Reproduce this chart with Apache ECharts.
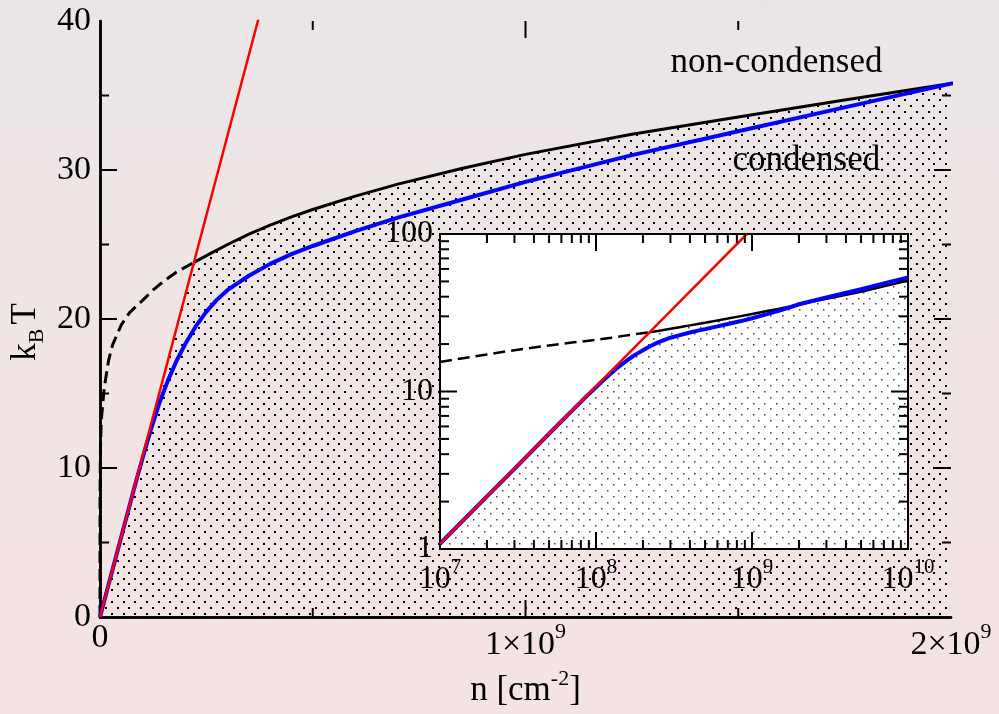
<!DOCTYPE html>
<html>
<head>
<meta charset="utf-8">
<script src="https://cdn.jsdelivr.net/npm/echarts@6/dist/echarts.min.js"></script>
<style>
  html, body { margin: 0; padding: 0; }
  body { background: linear-gradient(to bottom, #ebe6e6, #f6e3e3); }
  #chart { width: 999px; height: 714px; }
</style>
</head>
<body>
<div id="chart"></div>
<script>
// Critical temperature k_B T versus areal density n [cm^-2]
// Black curve: dashed below the crossing with the red line, solid above it
const blackDashedN = [0, 1e4, 1e5, 1e6, 3e6, 1e7, 2e7, 3e7, 5e7, 7e7, 1e8, 1.25e8, 1.5e8, 1.8e8, 2.21e8];
const blackDashedT = [0, 6.0, 8.2, 11.2, 13.2, 15.4, 17.2, 18.3, 19.6, 20.45, 21.25, 21.95, 22.55, 23.15, 23.8];
const blackSolidN = [2.21e8, 2.6e8, 3e8, 3.5e8, 4e8, 4.5e8, 5e8, 6e8, 7e8, 8.5e8, 1e9, 1.25e9, 1.5e9, 1.75e9, 2e9, 3e9, 5e9, 7e9, 1e10];
const blackSolidT = [23.8, 24.4, 25.0, 25.7, 26.3, 26.85, 27.35, 28.25, 29.05, 30.1, 31.05, 32.4, 33.55, 34.7, 35.8, 38.8, 43.0, 46.6, 50.6];
// Blue curve
const blueN = [0, 1e7, 2e7, 3e7, 5e7, 7e7, 8e7, 9e7, 1e8, 1.1e8, 1.2e8, 1.4e8, 1.6e8, 1.8e8, 2e8, 2.25e8, 2.5e8, 2.75e8, 3e8, 3.5e8, 4e8, 4.5e8, 5e8, 6e8, 7e8, 8.5e8, 1e9, 1.25e9, 1.5e9, 1.75e9, 2e9, 3e9, 5e9, 7e9, 1e10];
const blueT = [0, 1.08, 2.16, 3.23, 5.39, 7.53, 8.6, 9.65, 10.65, 11.65, 12.6, 14.4, 15.9, 17.2, 18.3, 19.5, 20.5, 21.3, 21.95, 22.9, 23.7, 24.35, 24.9, 25.9, 26.8, 28.0, 29.2, 31.0, 32.6, 34.2, 35.8, 39.5, 44.6, 48.5, 53.0];
// Red straight line
const redN = [0, 1e7, 3.71e8, 9.28e8];
const redT = [0, 1.078, 40, 100];

// Axis ranges and ticks
const mainXRange = [0, 2e9];
const mainXStep = 1e9;
const mainYRange = [0, 40];
const mainYStep = 10;
const insetXRange = [1e7, 1e10];
const insetYRange = [1, 100];
const annotations = [
  { text: 'non-condensed', n: 1.59e9, T: 37.2 },
  { text: 'condensed', n: 1.66e9, T: 30.6 }
];

const serif = '"Liberation Serif", "Times New Roman", serif';
const pairs = (xs, ys) => xs.map((x, i) => [x, ys[i]]);
const positive = p => p[0] >= insetXRange[0];

// Boundary of the condensed region: red line up to the crossing, then the solid black curve
const fillEdge = pairs(redN, redT).filter(p => p[0] < blackSolidN[0]).concat(pairs(blackSolidN, blackSolidT));

// Staggered dot texture for the condensed region
function dotTexture(color, size) {
  const c = document.createElement('canvas');
  c.width = 35; c.height = 35;
  const ctx = c.getContext('2d');
  ctx.fillStyle = color;
  for (let i = 0; i < 6; i++) {
    const y = Math.round(i * 35 / 6);
    const off = (i % 2) * 35 / 6;
    for (let j = 0; j < 3; j++) {
      const x = Math.round(j * 35 / 3 + off) % 35;
      ctx.fillRect(x, y, size, size);
    }
  }
  return c;
}
const mainDots = dotTexture('#000', 2);
const insetDots = dotTexture('rgba(0,0,0,0.75)', 1.5);

// Tick marks, drawn inward on all four sides of each panel: [x, y, length, isYTick]
const mainTicks = [];
for (let v = mainXRange[0] + mainXStep / 2; v < mainXRange[1]; v += mainXStep / 2) {
  const major = Math.abs(v / mainXStep - Math.round(v / mainXStep)) < 1e-9;
  mainTicks.push([v, 20, major ? 17 : 9, 0]);
}
for (let v = mainYRange[0] + mainYStep / 2; v < mainYRange[1]; v += mainYStep / 2) {
  mainTicks.push([1e9, v, v % mainYStep === 0 ? 17 : 9, 1]);
}
const insetTicks = [];
for (let e = 7; e < 10; e++) {
  for (let m = 1; m <= 9; m++) {
    const v = m * Math.pow(10, e);
    if (v <= insetXRange[0]) continue;
    insetTicks.push([v, 10, m === 1 ? 17 : 9, 0]);
  }
}
for (let e = 0; e < 2; e++) {
  for (let m = 1; m <= 9; m++) {
    const v = m * Math.pow(10, e);
    if (v <= insetYRange[0]) continue;
    insetTicks.push([1e8, v, m === 1 ? 17 : 9, 1]);
  }
}

function tickRenderer(params, api) {
  const cs = params.coordSys;
  const len = api.value(2);
  const st = () => ({ stroke: '#000', lineWidth: 2 });
  if (api.value(3) === 0) {
    const px = api.coord([api.value(0), api.value(1)])[0];
    const b = cs.y + cs.height;
    return { type: 'group', children: [
      { type: 'line', shape: { x1: px, y1: b, x2: px, y2: b - len }, style: st() },
      { type: 'line', shape: { x1: px, y1: cs.y, x2: px, y2: cs.y + len }, style: st() }
    ] };
  }
  const py = api.coord([api.value(0), api.value(1)])[1];
  const r = cs.x + cs.width;
  return { type: 'group', children: [
    { type: 'line', shape: { x1: cs.x, y1: py, x2: cs.x + len, y2: py }, style: st() },
    { type: 'line', shape: { x1: r, y1: py, x2: r - len, y2: py }, style: st() }
  ] };
}

const axisLine = w => ({ show: true, lineStyle: { color: '#000', width: w } });
const noTicks = { show: false };

const chart = echarts.init(document.getElementById('chart'), null, { renderer: 'canvas' });

const lineBase = { type: 'line', symbol: 'none', showSymbol: false, silent: true, smooth: false };

chart.setOption({
  animation: false,
  backgroundColor: 'transparent',
  grid: [
    { left: 100, top: 21, width: 851, height: 596, outerBoundsMode: 'none', containLabel: false },
    { left: 440, top: 234, width: 468, height: 315, show: true, backgroundColor: '#fff',
      borderColor: '#000', borderWidth: 2, z: 10, outerBoundsMode: 'none', containLabel: false }
  ],
  xAxis: [
    {
      gridIndex: 0, type: 'value', position: 'bottom',
      min: mainXRange[0], max: mainXRange[1], interval: mainXStep,
      axisLine: axisLine(2.5), axisTick: noTicks, minorTick: noTicks, splitLine: { show: false },
      axisLabel: {
        margin: 4, color: '#000', fontFamily: serif, fontSize: 34, showMinLabel: true, showMaxLabel: true,
        hideOverlap: false,
        formatter: v => v === 0 ? '{z|0}' : '{b|' + Math.round(v / 1e9) + '×10}{s|9}',
        rich: {
          z: { fontFamily: serif, fontSize: 34, lineHeight: 34, color: '#000' },
          b: { fontFamily: serif, fontSize: 34, lineHeight: 34, padding: [14, 0, 0, 0], color: '#000' },
          s: { fontFamily: serif, fontSize: 22, lineHeight: 22, verticalAlign: 'top', color: '#000' }
        }
      },
      name: '{n|n [cm}{s|-2}{n|]}', nameLocation: 'middle', nameGap: 51, nameMoveOverlap: false,
      nameTextStyle: {
        color: '#000', fontFamily: serif, fontSize: 35,
        rich: {
          n: { fontFamily: serif, fontSize: 35, lineHeight: 35, padding: [10, 0, 0, 0], color: '#000' },
          s: { fontFamily: serif, fontSize: 22, lineHeight: 22, verticalAlign: 'top', color: '#000' }
        }
      }
    },
    {
      gridIndex: 0, type: 'value', position: 'top',
      min: mainXRange[0], max: mainXRange[1], interval: mainXStep,
      axisLine: axisLine(2.5), axisTick: noTicks, minorTick: noTicks, splitLine: { show: false },
      axisLabel: { show: false }
    },
    {
      gridIndex: 1, type: 'log', logBase: 10, min: insetXRange[0], max: insetXRange[1], splitNumber: 3,
      axisLine: axisLine(2), axisTick: noTicks, splitLine: { show: false }, z: 12,
      axisLabel: {
        margin: 8, color: '#000', fontFamily: serif, fontSize: 32, hideOverlap: false,
        showMinLabel: true, showMaxLabel: true,
        formatter: v => '{b|10}{s|' + Math.round(Math.log10(v)) + '}',
        rich: {
          b: { fontFamily: serif, fontSize: 32, lineHeight: 32, padding: [13, 0, 0, 0], color: '#000' },
          s: { fontFamily: serif, fontSize: 21, lineHeight: 21, verticalAlign: 'top', color: '#000' }
        }
      }
    }
  ],
  yAxis: [
    {
      gridIndex: 0, type: 'value', position: 'left',
      min: mainYRange[0], max: mainYRange[1], interval: mainYStep,
      axisLine: axisLine(2.5), axisTick: noTicks, minorTick: noTicks, splitLine: { show: false },
      axisLabel: { margin: 9, color: '#000', fontFamily: serif, fontSize: 34, showMinLabel: true, showMaxLabel: true },
      name: '{k|k}{b|B}{t|T}', nameLocation: 'middle', nameRotate: 90, nameGap: 52, nameMoveOverlap: false,
      nameTextStyle: {
        color: '#000', fontFamily: serif, fontSize: 35,
        rich: {
          k: { fontFamily: serif, fontSize: 35, lineHeight: 35, padding: [0, 0, 9, 0], color: '#000' },
          b: { fontFamily: serif, fontSize: 22, lineHeight: 22, verticalAlign: 'bottom', color: '#000' },
          t: { fontFamily: serif, fontSize: 35, lineHeight: 35, padding: [0, 26, 9, 4], color: '#000' }
        }
      }
    },
    {
      gridIndex: 0, type: 'value', position: 'right',
      min: mainYRange[0], max: mainYRange[1], interval: mainYStep,
      axisLine: axisLine(2.5), axisTick: noTicks, minorTick: noTicks, splitLine: { show: false },
      axisLabel: { show: false }
    },
    {
      gridIndex: 1, type: 'log', logBase: 10, min: insetYRange[0], max: insetYRange[1], splitNumber: 2,
      axisLine: axisLine(2), axisTick: noTicks, splitLine: { show: false }, z: 12,
      axisLabel: { margin: 7, color: '#000', fontFamily: serif, fontSize: 32, showMinLabel: true, showMaxLabel: true }
    }
  ],
  series: [
    // main panel
    Object.assign({}, lineBase, {
      xAxisIndex: 0, yAxisIndex: 0, z: 2, data: fillEdge,
      lineStyle: { width: 0, opacity: 0 },
      areaStyle: { color: { image: mainDots, repeat: 'repeat' }, opacity: 1, origin: 'start' }
    }),
    Object.assign({}, lineBase, {
      xAxisIndex: 0, yAxisIndex: 0, z: 3, data: pairs(blackDashedN, blackDashedT),
      lineStyle: { color: '#000', width: 3, type: [12, 6] }
    }),
    Object.assign({}, lineBase, {
      xAxisIndex: 0, yAxisIndex: 0, z: 3, data: pairs(blackSolidN, blackSolidT),
      lineStyle: { color: '#000', width: 3 }
    }),
    Object.assign({}, lineBase, {
      xAxisIndex: 0, yAxisIndex: 0, z: 4, data: pairs(blueN, blueT),
      lineStyle: { color: '#0000ff', width: 4 }
    }),
    Object.assign({}, lineBase, {
      xAxisIndex: 0, yAxisIndex: 0, z: 5, data: pairs(redN, redT),
      lineStyle: { color: '#ff0000', width: 2.5 }
    }),
    {
      type: 'custom', xAxisIndex: 0, yAxisIndex: 0, z: 6, silent: true, clip: false,
      encode: { x: 0, y: 1 }, data: mainTicks, renderItem: tickRenderer
    },
    // inset panel (log-log)
    Object.assign({}, lineBase, {
      xAxisIndex: 2, yAxisIndex: 2, z: 11, data: fillEdge.filter(positive),
      lineStyle: { width: 0, opacity: 0 },
      areaStyle: { color: { image: insetDots, repeat: 'repeat' }, opacity: 1, origin: 'start' }
    }),
    Object.assign({}, lineBase, {
      xAxisIndex: 2, yAxisIndex: 2, z: 12, data: pairs(blackDashedN, blackDashedT).filter(positive),
      lineStyle: { color: '#000', width: 2.5, type: [12, 6] }
    }),
    Object.assign({}, lineBase, {
      xAxisIndex: 2, yAxisIndex: 2, z: 12, data: pairs(blackSolidN, blackSolidT).filter(positive),
      lineStyle: { color: '#000', width: 2.5 }
    }),
    Object.assign({}, lineBase, {
      xAxisIndex: 2, yAxisIndex: 2, z: 13, data: pairs(blueN, blueT).filter(positive),
      lineStyle: { color: '#0000ff', width: 4 }
    }),
    Object.assign({}, lineBase, {
      xAxisIndex: 2, yAxisIndex: 2, z: 14, data: pairs(redN, redT).filter(positive),
      lineStyle: { color: '#ff0000', width: 2.5 }
    }),
    {
      type: 'custom', xAxisIndex: 2, yAxisIndex: 2, z: 15, silent: true, clip: false,
      encode: { x: 0, y: 1 }, data: insetTicks, renderItem: tickRenderer
    }
  ]
});

// Region labels placed at their data positions on the main panel
chart.setOption({
  graphic: annotations.map(a => {
    const p = chart.convertToPixel({ xAxisIndex: 0, yAxisIndex: 0 }, [a.n, a.T]);
    return { type: 'text', z: 20, silent: true, x: p[0], y: p[1],
      style: { text: a.text, fontFamily: serif, fontSize: 35, fill: '#000', align: 'center', verticalAlign: 'middle' } };
  })
});
</script>
</body>
</html>
